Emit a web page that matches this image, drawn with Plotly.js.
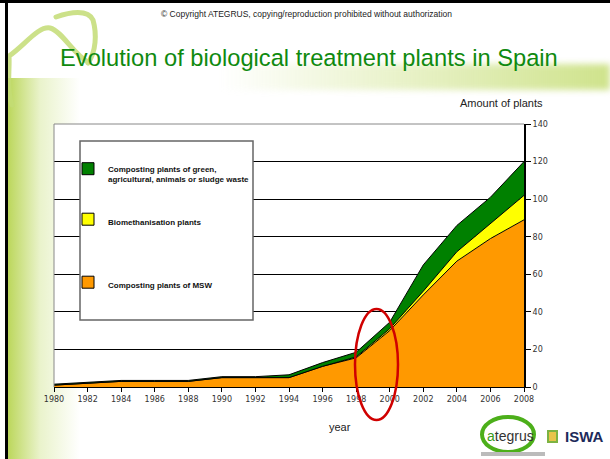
<!DOCTYPE html>
<html>
<head>
<meta charset="utf-8">
<script src="https://cdn.plot.ly/plotly-3.0.1.min.js"></script>
<style>
  html, body { margin:0; padding:0; background:#fff; }
  #wrap { position:relative; width:610px; height:459px; overflow:hidden; background:#fff; }
  .abs { position:absolute; }
  #chart { position:absolute; left:0; top:0; width:610px; height:459px; }
</style>
</head>
<body>
<div id="wrap">
  <div class="abs" style="left:8px;top:78px;width:72px;height:381px;background:linear-gradient(to right,#bcd75c 0%,rgba(220,235,170,0.6) 45%,rgba(255,255,255,0) 100%);"></div>
  <div class="abs" style="left:220px;top:64px;width:390px;height:26px;background:linear-gradient(to right,rgba(255,255,255,0) 0%,rgba(214,231,156,0.7) 60%,#cfe38c 100%);filter:blur(3px);"></div>
  <svg class="abs" style="left:0;top:0" width="120" height="120">
    <path d="M12,105 C6,90 10,70 9,56 C25,45 38,26 50,28 C62,31 74,55 88,62 M56,17 C70,12 88,9 93,20 C97,34 96,52 88,63"
          fill="none" stroke="#c3dc74" stroke-width="5" stroke-linecap="round" opacity="0.85"/>
  </svg>
  <div class="abs" style="left:0;top:0;width:610px;height:3px;background:#000;"></div>
  <div class="abs" style="left:5px;top:0;width:3px;height:459px;background:#000;"></div>
  <div id="chart"></div>
</div>
<script>
// ---- data ----
const years = [1980,1982,1984,1986,1988,1990,1992,1994,1996,1998,2000,2002,2004,2006,2008];
const yearLabels = ["1980","1982","1984","1986","1988","1990","1992","1994","1996","1998","2000","2002","2004","2006","2008"];
const mswPlants = [1,2,3,3,3,5,5,5,11,15.5,30,49,67,79,89];
const biomethPlants = [0,0,0,0,0,0,0,0,0,0.5,1,2,5,8,13];
const greenPlants = [0.5,0.5,0.5,0.5,0.5,0.5,0.5,1.5,2,2.5,3.5,14,14,14,18];
const seriesNames = [
  "Composting plants of MSW",
  "Biomethanisation plants",
  "Composting plants of green,<br>agricultural, animals or sludge waste"
];
const yTicks = [0,20,40,60,80,100,120,140];

const colMSW = "#ff9900", colBio = "#ffff00", colGreen = "#008000";

// px -> paper helpers (plot area: x 54..524, y 124..387)
const L = 54, R = 524, T = 124, B = 387;
const px = v => (v - L) / (R - L);
const py = v => (B - v) / (B - T);

const areaLine = {color:"#000", width:1};
const traces = [
  {x: years, y: mswPlants, type:"scatter", mode:"lines", stackgroup:"one", line:areaLine, fillcolor:colMSW, name:seriesNames[0], showlegend:false},
  {x: years, y: biomethPlants, type:"scatter", mode:"lines", stackgroup:"one", line:areaLine, fillcolor:colBio, name:seriesNames[1], showlegend:false},
  {x: years, y: greenPlants, type:"scatter", mode:"lines", stackgroup:"one", line:areaLine, fillcolor:colGreen, name:seriesNames[2], showlegend:false},
  // legend keys
  {x:[null], y:[null], type:"bar", name:seriesNames[2], marker:{color:colGreen, line:{color:"#000", width:1}}, legend:"legend"},
  {x:[null], y:[null], type:"bar", name:seriesNames[1], marker:{color:colBio, line:{color:"#000", width:1}}, legend:"legend2"},
  {x:[null], y:[null], type:"bar", name:seriesNames[0], marker:{color:colMSW, line:{color:"#000", width:1}}, legend:"legend3"}
];

const legFont = {family:"Liberation Sans, Arial, sans-serif", size:8, weight:"bold", color:"#111"};
const legBase = {xanchor:"left", yanchor:"middle", bgcolor:"rgba(0,0,0,0)", borderwidth:0, font:legFont, valign:"top", itemclick:false};
const tickFont = {family:"DejaVu Sans, sans-serif", size:8, color:"#333"};
const txtFont = {family:"Liberation Sans, Arial, sans-serif", size:11, color:"#222"};
const ann = o => Object.assign({xref:"paper", yref:"paper", showarrow:false, xanchor:"center", yanchor:"middle"}, o);

const layout = {
  width:610, height:459,
  margin:{l:L, r:610-R, t:T, b:459-B, pad:0},
  paper_bgcolor:"rgba(0,0,0,0)",
  plot_bgcolor:"#ffffff",
  title:{text:"Evolution of biological treatment plants in Spain", xref:"container", yref:"container",
         x:60/610, xanchor:"left", y:1-58/459, yanchor:"middle",
         font:{family:"Liberation Sans, Arial, sans-serif", size:23.7, color:"#0f8a0f"}},
  xaxis:{range:[1980,2008], tickvals:years, ticktext:yearLabels, ticks:"outside", ticklen:4, tickcolor:"#000",
         showline:true, linecolor:"#000", linewidth:1, showgrid:false, zeroline:false, tickfont:tickFont, fixedrange:true},
  yaxis:{range:[0,140], side:"right", tickvals:yTicks, ticks:"outside", ticklen:5, tickcolor:"#000",
         showline:true, linecolor:"#000", linewidth:2, showgrid:true, gridcolor:"#000", gridwidth:1,
         zeroline:false, tickfont:tickFont, fixedrange:true},
  showlegend:true,
  legend: Object.assign({}, legBase, {x:px(68), y:py(174)}),
  legend2: Object.assign({}, legBase, {x:px(68), y:py(222)}),
  legend3: Object.assign({}, legBase, {x:px(68), y:py(285)}),
  shapes:[
    {type:"line", xref:"paper", yref:"paper", x0:0, x1:1, y0:1, y1:1, line:{color:"#888", width:1}, layer:"above"},
    {type:"line", xref:"paper", yref:"paper", x0:0, x1:0, y0:0, y1:1, line:{color:"#888", width:1}, layer:"above"},
    {type:"rect", xref:"paper", yref:"paper", x0:px(80), x1:px(253), y0:py(320), y1:py(141),
     fillcolor:"#fff", line:{color:"#666", width:1.5}, layer:"above"},
    {type:"circle", xref:"paper", yref:"paper", x0:px(355), x1:px(398), y0:py(420), y1:py(309),
     line:{color:"#d00000", width:2.5}, layer:"above"},
    {type:"circle", xref:"paper", yref:"paper", x0:px(482), x1:px(534), y0:py(452), y1:py(417),
     line:{color:"#4caf1a", width:4}, layer:"above"},
    {type:"rect", xref:"paper", yref:"paper", x0:px(548), x1:px(557), y0:py(442), y1:py(431),
     fillcolor:"#e8c44a", line:{color:"#7cb342", width:2}, layer:"above"},
    {type:"rect", xref:"paper", yref:"paper", x0:px(481), x1:px(545), y0:py(456), y1:py(452),
     fillcolor:"#bbb", line:{width:0}, layer:"above"}
  ],
  annotations:[
    ann({text:"© Copyright ATEGRUS, copying/reproduction prohibited without authorization",
     x:px(306), y:py(14), font:{family:"Liberation Sans, Arial, sans-serif", size:8.5, color:"#222"}}),
    ann({text:"Amount of plants", x:px(501), y:py(103), font:txtFont}),
    ann({text:"year", x:px(340), y:py(427), font:txtFont}),
    ann({text:"<span style='color:#3a9a1a'>a</span>tegrus", x:px(510), y:py(436),
     font:{family:"Liberation Sans, Arial, sans-serif", size:14, color:"#333"}}),
    ann({text:"<b>ISWA</b>", x:px(584), y:py(436),
     font:{family:"Liberation Sans, Arial, sans-serif", size:15, color:"#1d2a5a"}})
  ]
};

Plotly.newPlot("chart", traces, layout, {displayModeBar:false, staticPlot:true});
</script>
</body>
</html>
